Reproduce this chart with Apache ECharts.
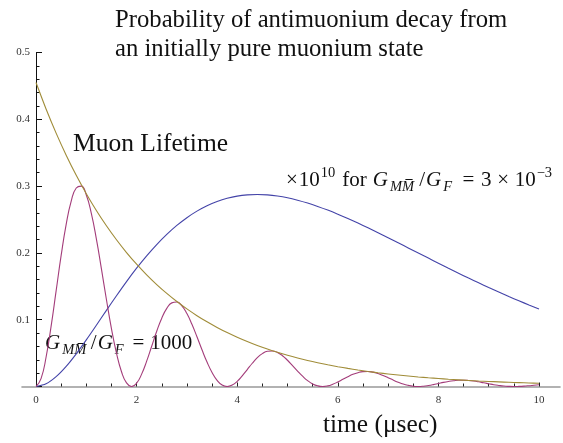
<!DOCTYPE html>
<html>
<head>
<meta charset="utf-8">
<script src="https://cdn.jsdelivr.net/npm/echarts@6/dist/echarts.min.js"></script>
<style>
  html, body { margin: 0; padding: 0; background: #fff; }
  #chart { width: 563px; height: 443px; }
</style>
</head>
<body>
<div id="chart"></div>
<script>
// Sample times (µs)
const timeMedium = [
  0, 0.2, 0.4, 0.6, 0.8, 1, 1.2, 1.4, 1.6, 1.8,
  2, 2.2, 2.4, 2.6, 2.8, 3, 3.2, 3.4, 3.6, 3.8,
  4, 4.2, 4.4, 4.6, 4.8, 5, 5.2, 5.4, 5.6, 5.8,
  6, 6.2, 6.4, 6.6, 6.8, 7, 7.2, 7.4, 7.6, 7.8,
  8, 8.2, 8.4, 8.6, 8.8, 9, 9.2, 9.4, 9.6, 9.8,
  10
];
const timeFine = [
  0, 0.1, 0.2, 0.3, 0.4, 0.5, 0.6, 0.7, 0.8, 0.9,
  1, 1.1, 1.2, 1.3, 1.4, 1.5, 1.6, 1.7, 1.8, 1.9,
  2, 2.1, 2.2, 2.3, 2.4, 2.5, 2.6, 2.7, 2.8, 2.9,
  3, 3.1, 3.2, 3.3, 3.4, 3.5, 3.6, 3.7, 3.8, 3.9,
  4, 4.1, 4.2, 4.3, 4.4, 4.5, 4.6, 4.7, 4.8, 4.9,
  5, 5.1, 5.2, 5.3, 5.4, 5.5, 5.6, 5.7, 5.8, 5.9,
  6, 6.1, 6.2, 6.3, 6.4, 6.5, 6.6, 6.7, 6.8, 6.9,
  7, 7.1, 7.2, 7.3, 7.4, 7.5, 7.6, 7.7, 7.8, 7.9,
  8, 8.1, 8.2, 8.3, 8.4, 8.5, 8.6, 8.7, 8.8, 8.9,
  9, 9.1, 9.2, 9.3, 9.4, 9.5, 9.6, 9.7, 9.8, 9.9,
  10
];

// Muon lifetime envelope
const muonLifetime = [
  0.45500, 0.41541, 0.37926, 0.34626, 0.31613, 0.28863, 0.26351, 0.24058, 0.21965, 0.20054,
  0.18309, 0.16716, 0.15261, 0.13933, 0.12721, 0.11614, 0.10603, 0.09681, 0.08839, 0.08069,
  0.07367, 0.06726, 0.06141, 0.05607, 0.05119, 0.04673, 0.04267, 0.03895, 0.03557, 0.03247,
  0.02965, 0.02707, 0.02471, 0.02256, 0.02060, 0.01881, 0.01717, 0.01567, 0.01431, 0.01307,
  0.01193, 0.01089, 0.00994, 0.00908, 0.00829, 0.00757, 0.00691, 0.00631, 0.00576, 0.00526,
  0.00480
];

// Antimuonium probability, weak coupling (scaled ×10^10)
const probWeak = [
  0, 0.0040, 0.0147, 0.0301, 0.0489, 0.0698, 0.0917, 0.1140, 0.1359, 0.1571,
  0.1771, 0.1956, 0.2125, 0.2277, 0.2411, 0.2527, 0.2625, 0.2706, 0.2769, 0.2817,
  0.2850, 0.2868, 0.2874, 0.2868, 0.2851, 0.2825, 0.2789, 0.2746, 0.2696, 0.2641,
  0.2580, 0.2515, 0.2447, 0.2376, 0.2303, 0.2228, 0.2152, 0.2075, 0.1998, 0.1922,
  0.1846, 0.1770, 0.1696, 0.1623, 0.1552, 0.1482, 0.1414, 0.1347, 0.1283, 0.1221,
  0.1160
];

// Antimuonium probability, G_MM/G_F = 1000
const probStrong = [
  0, 0.0118, 0.0438, 0.0899, 0.1431, 0.1962, 0.2427, 0.2775, 0.2972, 0.3000,
  0.2867, 0.2592, 0.2211, 0.1765, 0.1302, 0.0867, 0.0498, 0.0221, 0.0054, 0,
  0.0050, 0.0185, 0.0379, 0.0603, 0.0827, 0.1023, 0.1169, 0.1252, 0.1264, 0.1208,
  0.1092, 0.0931, 0.0744, 0.0549, 0.0366, 0.0210, 0.0093, 0.0023, 0, 0.0021,
  0.0078, 0.0160, 0.0254, 0.0348, 0.0431, 0.0492, 0.0527, 0.0532, 0.0509, 0.0461,
  0.0393, 0.0313, 0.0231, 0.0154, 0.0088, 0.0039, 0.0010, 0, 0.0009, 0.0033,
  0.0067, 0.0107, 0.0147, 0.0182, 0.0207, 0.0222, 0.0225, 0.0215, 0.0194, 0.0165,
  0.0132, 0.0097, 0.0065, 0.0037, 0.0017, 0.0004, 0, 0.0004, 0.0014, 0.0028,
  0.0045, 0.0062, 0.0076, 0.0087, 0.0094, 0.0094, 0.0090, 0.0082, 0.0070, 0.0055,
  0.0041, 0.0027, 0.0016, 0.0007, 0.0002, 0, 0.0002, 0.0006, 0.0012, 0.0019,
  0.0026
];

const pair = (xs, ys) => xs.map((x, i) => [x, ys[i]]);

const SERIF = "'Liberation Serif', 'Times New Roman', serif";
const tickFont = { fontFamily: SERIF, fontSize: 11, color: '#333' };
const INK = '#111';

// Rich-text styles for the inline formulas (base size, script size).
// Every token is bottom-aligned; bottom padding lifts scripts up or down.
const MATH_BASE = 21, MATH_SCRIPT = 14.5, MATH_PAD = 6;
const mathLH = Math.round(MATH_BASE * 1.15);
const mathSLH = Math.round(MATH_SCRIPT * 1.15);
// height of the base baseline above the bottom of the text box
const mathBaseline = MATH_PAD + mathLH / 2 - 0.3 * MATH_BASE;

function mathRich(extra) {
  const supPad = (mathBaseline + 0.38 * MATH_BASE) + 0.3 * MATH_SCRIPT - mathSLH / 2;
  const subPad = Math.max(0, (mathBaseline - 0.24 * MATH_BASE) + 0.3 * MATH_SCRIPT - mathSLH / 2);
  const common = { fontFamily: SERIF, color: INK, verticalAlign: 'bottom' };
  const b = MATH_BASE;
  const relSp = 0.28 * b + extra, binSp = 0.22 * b + extra;
  return {
    r:   Object.assign({ fontSize: b, lineHeight: mathLH, padding: [0, 0, MATH_PAD, 0] }, common),
    i:   Object.assign({ fontSize: b, fontStyle: 'italic', lineHeight: mathLH, padding: [0, 1.5, MATH_PAD, 0] }, common),
    rel: Object.assign({ fontSize: b, lineHeight: mathLH, padding: [0, relSp, MATH_PAD, relSp] }, common),
    bin: Object.assign({ fontSize: b, lineHeight: mathLH, padding: [0, binSp, MATH_PAD, binSp] }, common),
    lead: Object.assign({ fontSize: b, lineHeight: mathLH, padding: [0, 1, MATH_PAD, 0] }, common),
    word: Object.assign({ fontSize: b, lineHeight: mathLH, padding: [0, 6, MATH_PAD, 6] }, common),
    sl:  Object.assign({ fontSize: b, lineHeight: mathLH, padding: [0, 1, MATH_PAD, 1.5] }, common),
    sup: Object.assign({ fontSize: MATH_SCRIPT, lineHeight: mathSLH, padding: [0, 1, supPad, 1] }, common),
    sub: Object.assign({ fontSize: MATH_SCRIPT, fontStyle: 'italic', lineHeight: mathSLH, padding: [0, 3 + extra / 2, subPad, 0.5] }, common)
  };
}

const chart = echarts.init(document.getElementById('chart'), null, { renderer: 'canvas' });

chart.setOption({
  animation: false,
  backgroundColor: '#fff',
  grid: [
    { left: 36, right: 24, top: 52.5, bottom: 56.5 },
    // wider frame that only carries the long horizontal axis line
    { left: 22, right: 3, top: 52.5, bottom: 56.5 }
  ],
  xAxis: [
    {
      gridIndex: 0, type: 'value', min: 0, max: 10, interval: 2,
      axisLine: { show: false },
      axisTick: { show: true, inside: true, length: 4, lineStyle: { color: '#222', width: 1 } },
      minorTick: { show: true, splitNumber: 4, length: 3, lineStyle: { color: '#222', width: 1 } },
      axisLabel: Object.assign({ margin: 8 }, tickFont),
      splitLine: { show: false }
    },
    {
      gridIndex: 1, type: 'value', min: 0, max: 1,
      axisLine: { show: true, lineStyle: { color: '#999', width: 1.6 } },
      axisTick: { show: false }, axisLabel: { show: false }, splitLine: { show: false }
    }
  ],
  yAxis: [
    {
      gridIndex: 0, type: 'value', min: 0, max: 0.5, interval: 0.1,
      axisLine: { show: true, lineStyle: { color: '#111', width: 1 } },
      axisTick: { show: true, inside: true, length: 6, lineStyle: { color: '#111', width: 1 } },
      minorTick: { show: true, splitNumber: 5, length: 3.5, lineStyle: { color: '#111', width: 1 } },
      axisLabel: Object.assign({
        margin: 6,
        formatter: v => (v === 0 ? '' : v.toFixed(1))
      }, tickFont),
      splitLine: { show: false }
    },
    {
      gridIndex: 1, type: 'value', min: 0, max: 1, show: false
    }
  ],
  series: [
    {
      name: 'weak', type: 'line', xAxisIndex: 0, yAxisIndex: 0,
      data: pair(timeMedium, probWeak), smooth: 0.3, showSymbol: false,
      lineStyle: { color: '#4343a8', width: 1.1 }, z: 3
    },
    {
      name: 'strong', type: 'line', xAxisIndex: 0, yAxisIndex: 0,
      data: pair(timeFine, probStrong), smooth: true, showSymbol: false,
      lineStyle: { color: '#a33c7a', width: 1.1 }, z: 4
    },
    {
      name: 'lifetime', type: 'line', xAxisIndex: 0, yAxisIndex: 0,
      data: pair(timeMedium, muonLifetime), smooth: 0.3, showSymbol: false,
      lineStyle: { color: '#a08c38', width: 1.1 }, z: 5
    }
  ],
  graphic: [
    {
      type: 'text', x: 115, y: 20.2,
      style: { text: 'Probability of antimuonium decay from', font: '24.7px ' + SERIF, fill: INK, verticalAlign: 'middle' }
    },
    {
      type: 'text', x: 115, y: 49.2,
      style: { text: 'an initially pure muonium state', font: '24.7px ' + SERIF, fill: INK, verticalAlign: 'middle' }
    },
    {
      type: 'text', x: 73, y: 143.8,
      style: { text: 'Muon Lifetime', font: '25.5px ' + SERIF, fill: INK, verticalAlign: 'middle' }
    },
    {
      type: 'text', x: 323, y: 425.5,
      style: { text: 'time (\u03bcsec)', font: '25.4px ' + SERIF, fill: INK, verticalAlign: 'middle' }
    },
    {
      type: 'text', x: 286, y: 185 + mathBaseline,
      style: {
        text: '{lead|\u00d7}{r|10}{sup|10}{word|for}{i|G}{sub|MM\u0305}{sl|/}{i|G}{sub|F}{rel|=}{r|3}{bin|\u00d7}{r|10}{sup|\u22123}',
        verticalAlign: 'bottom',
        fill: INK,
        rich: mathRich(1)
      }
    },
    {
      type: 'text', x: 45, y: 348.3 + mathBaseline,
      style: {
        text: '{i|G}{sub|MM\u0305}{sl|/}{i|G}{sub|F}{rel|=}{r|1000}',
        verticalAlign: 'bottom',
        fill: INK,
        rich: mathRich(0)
      }
    }
  ]
});
</script>
</body>
</html>
